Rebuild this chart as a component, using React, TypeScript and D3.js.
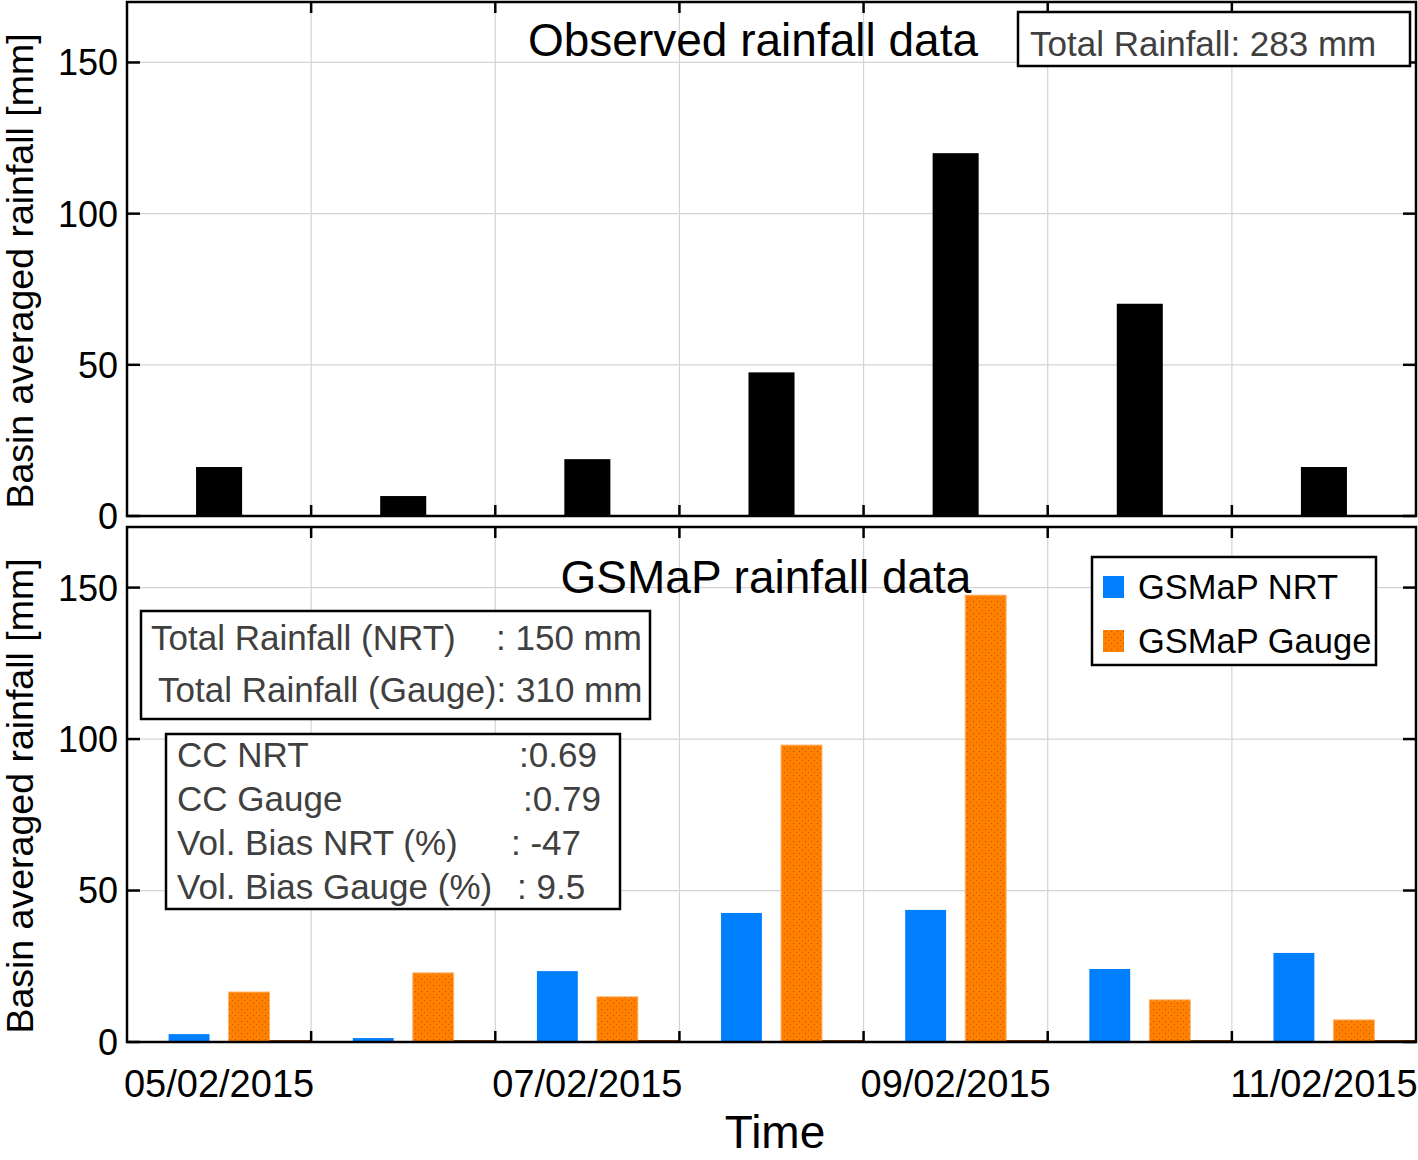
import React from "react";
import * as d3 from "d3";

const months = ["2015-05", "2015-06", "2015-07", "2015-08", "2015-09", "2015-10", "2015-11"];
const monthLabels = ["05/02/2015", "", "07/02/2015", "", "09/02/2015", "", "11/02/2015"];
const observed = [16.2, 6.6, 18.8, 47.5, 120, 70.2, 16.2];
const gsmapNRT = [2.6, 1.3, 23.4, 42.6, 43.6, 24.1, 29.4];
const gsmapGauge = [16.5, 22.8, 14.9, 98, 147.5, 13.9, 7.3];
const yTicks = [0, 50, 100, 150];
const subSeries = ["s0", "NRT", "Gauge", "s3"];

const FONT = "'Liberation Sans', Arial, Helvetica, sans-serif";
const W = 1418;
const H = 1160;
const L = 127;
const R = 1416;

export default function App() {
  const x = d3.scaleBand<string>().domain(months).range([L, R]).padding(0);
  const bw = x.bandwidth();
  const yTop = d3.scaleLinear().domain([0, 170]).range([516, 2]);
  const yBot = d3.scaleLinear().domain([0, 170]).range([1042, 527]);
  const sub = d3.scalePoint<string>().domain(subSeries).range([bw * 0.011, bw * 0.989]);
  const topBarW = bw * 0.25;
  const subW = bw * 0.222;
  const boundaries = d3.range(months.length + 1).map((i) => L + i * bw);

  const frame = (y: d3.ScaleLinear<number, number>) => {
    const [y0, y1] = y.range();
    return (
      <g>
        {boundaries.slice(1, -1).map((bx, i) => (
          <line key={"gx" + i} x1={bx} x2={bx} y1={y1} y2={y0} stroke="#d4d4d4" strokeWidth={1.2} />
        ))}
        {yTicks.slice(1).map((t) => (
          <line key={"gy" + t} x1={L} x2={R} y1={y(t)} y2={y(t)} stroke="#d4d4d4" strokeWidth={1.2} />
        ))}
      </g>
    );
  };

  const axes = (y: d3.ScaleLinear<number, number>) => {
    const [y0, y1] = y.range();
    return (
      <g>
        {boundaries.slice(1, -1).map((bx, i) => (
          <g key={"tx" + i}>
            <line x1={bx} x2={bx} y1={y0} y2={y0 - 11} stroke="#000" strokeWidth={2.5} />
            <line x1={bx} x2={bx} y1={y1} y2={y1 + 11} stroke="#000" strokeWidth={2.5} />
          </g>
        ))}
        {yTicks.map((t) => (
          <g key={"ty" + t}>
            <line x1={L} x2={L + 13} y1={y(t)} y2={y(t)} stroke="#000" strokeWidth={2.5} />
            <line x1={R} x2={R - 13} y1={y(t)} y2={y(t)} stroke="#000" strokeWidth={2.5} />
            <text x={118} y={y(t)} dy="0.36em" textAnchor="end" fontSize={36} fontFamily={FONT} fill="#000">
              {t}
            </text>
          </g>
        ))}
        <rect x={L} y={y1} width={R - L} height={y0 - y1} fill="none" stroke="#000" strokeWidth={2.5} />
      </g>
    );
  };

  const ylabel = (cy: number) => (
    <text
      transform={`translate(33,${cy}) rotate(-90)`}
      textAnchor="middle"
      fontSize={37.5}
      fontFamily={FONT}
      fill="#000"
    >
      Basin averaged rainfall [mm]
    </text>
  );

  const FS = 35;

  return (
    <svg
      width={W}
      height={H}
      viewBox={`0 0 ${W} ${H}`}
      style={{ position: "absolute", left: 0, top: 0, background: "#fff" }}
    >
      <defs>
        <pattern id="dots" width="6" height="6" patternUnits="userSpaceOnUse">
          <rect width="6" height="6" fill="#ff8000" />
          <rect x="1" y="1" width="1" height="1" fill="#a85400" />
          <rect x="4" y="4" width="1" height="1" fill="#c46200" />
        </pattern>
      </defs>
      <rect x={0} y={0} width={W} height={H} fill="#fff" />

      {/* Top panel */}
      {frame(yTop)}
      {observed.map((v, i) => {
        const cx = (x(months[i]) as number) + bw / 2;
        return (
          <rect
            key={"ob" + i}
            x={cx - topBarW / 2}
            y={yTop(v)}
            width={topBarW}
            height={yTop(0) - yTop(v)}
            fill="#000"
          />
        );
      })}
      {axes(yTop)}
      <text x={753} y={56} textAnchor="middle" fontSize={46} fontFamily={FONT} fill="#000">
        Observed rainfall data
      </text>
      <rect x={1018} y={12} width={392} height={54} fill="#fff" stroke="#000" strokeWidth={2.5} />
      <text x={1030} y={56} fontSize={35} fontFamily={FONT} fill="#404040">
        Total Rainfall: 283 mm
      </text>
      {ylabel(271)}

      {/* Bottom panel */}
      {frame(yBot)}
      {months.map((m, i) => {
        const b = x(m) as number;
        const cxN = b + (sub("NRT") as number);
        const cxG = b + (sub("Gauge") as number);
        return (
          <g key={"gb" + i}>
            <rect
              x={cxN - subW / 2}
              y={yBot(gsmapNRT[i])}
              width={subW}
              height={yBot(0) - yBot(gsmapNRT[i])}
              fill="#0080ff"
            />
            <rect
              x={cxG - subW / 2}
              y={yBot(gsmapGauge[i])}
              width={subW}
              height={yBot(0) - yBot(gsmapGauge[i])}
              fill="url(#dots)"
              stroke="#ffb060"
              strokeWidth={1}
            />
            <line
              x1={cxG + subW / 2}
              x2={b + bw}
              y1={yBot(0) - 1}
              y2={yBot(0) - 1}
              stroke="#7a3d00"
              strokeWidth={2}
            />
          </g>
        );
      })}
      {axes(yBot)}
      <text x={766} y={593} textAnchor="middle" fontSize={46} fontFamily={FONT} fill="#000">
        GSMaP rainfall data
      </text>

      {/* Legend */}
      <rect x={1092} y={557} width={284} height={108} fill="#fff" stroke="#000" strokeWidth={2.5} />
      <rect x={1103} y={576} width={21} height={22} fill="#0080ff" />
      <text x={1138} y={599} fontSize={34.5} fontFamily={FONT} fill="#000">
        GSMaP NRT
      </text>
      <rect x={1103} y={630} width={21} height={22} fill="url(#dots)" />
      <text x={1138} y={653} fontSize={34.5} fontFamily={FONT} fill="#000">
        GSMaP Gauge
      </text>

      {/* Stats boxes */}
      <rect x={141} y={611} width={509} height={108} fill="#fff" stroke="#000" strokeWidth={2.5} />
      <text x={151} y={650} fontSize={FS} fontFamily={FONT} fill="#404040">
        Total Rainfall (NRT)
      </text>
      <text x={496} y={650} fontSize={FS} fontFamily={FONT} fill="#404040">
        : 150 mm
      </text>
      <text x={158} y={702} fontSize={FS} fontFamily={FONT} fill="#404040">
        Total Rainfall (Gauge): 310 mm
      </text>

      <rect x={166} y={734} width={454} height={175} fill="#fff" stroke="#000" strokeWidth={2.5} />
      {[
        ["CC NRT", ":0.69", 519, 767],
        ["CC Gauge", ":0.79", 523, 811],
        ["Vol. Bias NRT (%)", ": -47", 511, 855],
        ["Vol. Bias Gauge (%)", ": 9.5", 517, 899],
      ].map(([lab, val, vx, ty]) => (
        <g key={lab as string}>
          <text x={177} y={ty as number} fontSize={FS} fontFamily={FONT} fill="#404040">
            {lab}
          </text>
          <text x={vx as number} y={ty as number} fontSize={FS} fontFamily={FONT} fill="#404040">
            {val}
          </text>
        </g>
      ))}
      {ylabel(796)}

      {/* X tick labels */}
      {months.map((m, i) =>
        monthLabels[i] ? (
          <text
            key={"xl" + i}
            x={(x(m) as number) + bw / 2}
            y={1097}
            textAnchor="middle"
            fontSize={38}
            fontFamily={FONT}
            fill="#000"
          >
            {monthLabels[i]}
          </text>
        ) : null
      )}
      <text x={775} y={1148} textAnchor="middle" fontSize={46} fontFamily={FONT} fill="#000">
        Time
      </text>
    </svg>
  );
}
